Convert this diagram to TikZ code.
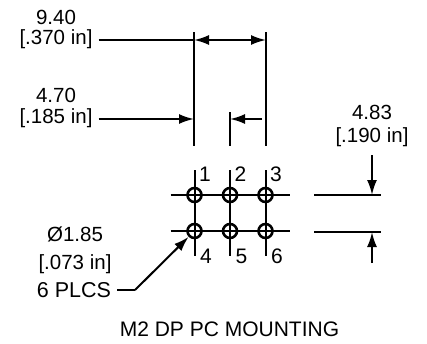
\documentclass[tikz,border=0pt]{standalone}
\usepackage{fontspec}
\setmainfont{Liberation Sans}
\usetikzlibrary{positioning, arrows.meta}

\tikzset{
  hole/.style={circle, draw, line width=2.6pt, minimum size=14pt, inner sep=0pt, on grid},
  dimtext/.style={font=\fontsize{20.5}{20.5}\selectfont, inner sep=6pt, on grid},
  pintext/.style={font=\fontsize{21}{21}\selectfont, inner sep=0pt, on grid},
  dimline/.style={line width=2pt},
  dimarrow/.style={line width=2pt, -{Latex[length=15pt, width=10pt]}},
}

\begin{document}
\begin{tikzpicture}[x=1pt, y=-1pt]
  \useasboundingbox (0,0) rectangle (427,343);

  % holes
  \node [hole] (h1) at (194.5,195) {};
  \node [hole, right=35.5pt of h1] (h2) {};
  \node [hole, right=35.5pt of h2] (h3) {};
  \node [hole, below=36pt of h1] (h4) {};
  \node [hole, right=35.5pt of h4] (h5) {};
  \node [hole, right=35.5pt of h5] (h6) {};

  % centre lines
  \coordinate [left=24pt of h1.center] (l1);
  \coordinate [right=24pt of h3.center] (r1);
  \coordinate [left=24pt of h4.center] (l2);
  \coordinate [right=24pt of h6.center] (r2);
  \coordinate [above=25pt of h1.center] (u1);
  \coordinate [above=25pt of h2.center] (u2);
  \coordinate [above=25pt of h3.center] (u3);
  \coordinate [below=25pt of h4.center] (d1);
  \coordinate [below=25pt of h5.center] (d2);
  \coordinate [below=25pt of h6.center] (d3);
  \draw [dimline] (l1) -- (r1);
  \draw [dimline] (l2) -- (r2);
  \draw [dimline] (u1) -- (d1);
  \draw [dimline] (u2) -- (d2);
  \draw [dimline] (u3) -- (d3);

  % pin numbers
  \node [pintext] (n1) at (205,174) {1};
  \node [pintext, right=35.5pt of n1] (n2) {2};
  \node [pintext, right=35.5pt of n2] (n3) {3};
  \node [pintext] (n4) at (206,256) {4};
  \node [pintext, right=35.5pt of n4] (n5) {5};
  \node [pintext, right=35.5pt of n5] (n6) {6};

  % extension lines at the top
  \coordinate (e1a) at (194,32);
  \coordinate (e1b) at (194,146);
  \coordinate (e2a) at (230,112);
  \coordinate (e2b) at (230,146);
  \coordinate (e3a) at (266,32);
  \coordinate (e3b) at (266,146);
  \draw [dimline] (e1a) -- (e1b);
  \draw [dimline] (e2a) -- (e2b);
  \draw [dimline] (e3a) -- (e3b);

  % 9.40 dimension
  \node [dimtext] (wide) at (56,39) {[.370 in]};
  \node [dimtext, above=22pt of wide] (widemm) {9.40};
  \coordinate (w1) at (194,40);
  \coordinate (w2) at (266,40);
  \draw [dimline] (wide.east |- w1) -- (w1);
  \draw [dimarrow, {Latex[length=15pt, width=10pt]}-{Latex[length=15pt, width=10pt]}] (w1) -- (w2);

  % 4.70 dimension
  \node [dimtext] (half) at (56,118) {[.185 in]};
  \node [dimtext, above=23pt of half] (halfmm) {4.70};
  \coordinate (p1) at (194,119);
  \coordinate (p2) at (230,119);
  \coordinate (p3) at (262,119);
  \draw [dimarrow] (half.east |- p1) -- (p1);
  \draw [dimarrow] (p3) -- (p2);

  % 4.83 dimension
  \node [dimtext] (pitch) at (372,137) {[.190 in]};
  \node [dimtext, above=25pt of pitch] (pitchmm) {4.83};
  \coordinate (c1) at (314,195);
  \coordinate (c2) at (381,195);
  \coordinate (c3) at (314,232);
  \coordinate (c4) at (381,232);
  \coordinate (c5) at (372,155);
  \coordinate (c6) at (372,195);
  \coordinate (c7) at (372,263);
  \coordinate (c8) at (372,232);
  \draw [dimline] (c1) -- (c2);
  \draw [dimline] (c3) -- (c4);
  \draw [dimarrow] (c5) -- (c6);
  \draw [dimarrow] (c7) -- (c8);

  % hole size
  \node [dimtext] (dia) at (75,234) {Ø1.85};
  \node [dimtext, below=30pt of dia] (diain) {[.073 in]};
  \node [dimtext, font=\fontsize{21.5}{21.5}\selectfont] (plcs) at (74,290) {6 PLCS};
  \coordinate (k1) at (135,290);
  \draw [dimline] (plcs) -- (k1);
  \draw [dimarrow] (k1) -- (h4);

  \node [font=\fontsize{21}{21}\selectfont] (title) at (229.5,329) {M2 DP PC MOUNTING};
\end{tikzpicture}
\end{document}
